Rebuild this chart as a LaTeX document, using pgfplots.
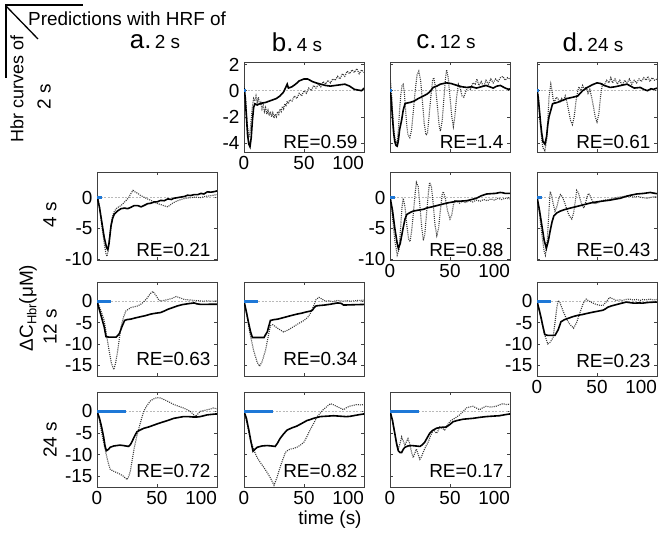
\documentclass[border=0pt]{standalone}
\usepackage{pgfplots}
\pgfplotsset{compat=1.18}
\usepackage{fontspec}
\setmainfont{Liberation Sans}
\definecolor{barblue}{RGB}{30,120,215}
\definecolor{dotgray}{RGB}{55,55,55}
\newcommand{\fs}{\fontsize{19}{21}\selectfont}
\pgfplotsset{
  panel/.style={scale only axis, width=120bp, xmin=0, xmax=100,
    xtick={0,50,100}, xticklabels={}, yticklabels={},
    axis line style={black!75, line width=0.6bp},
    tick style={black!75, line width=0.5bp}, major tick length=3bp,
    tick align=inside, clip=true,
    ticklabel style={font=\fs},
    xticklabel style={yshift=-1bp},
    yticklabel style={xshift=-1bp},
    /pgf/number format/assume math mode=true},
  xlab/.style={xticklabels={0,50,\makebox[0pt][r]{100}}},
  r1/.style={height=90bp, ymin=-4.7, ymax=2.2, ytick={-4,-2,0,2}},
  r1lab/.style={yticklabels={-4,-2,0,2}},
  r2/.style={height=88bp, ymin=-10.2, ymax=4.2, ytick={-10,-5,0}},
  r2lab/.style={yticklabels={-10,-5,0}},
  r3/.style={height=94bp, ymin=-17.5, ymax=4.5, ytick={-15,-10,-5,0}},
  r3lab/.style={yticklabels={-15,-10,-5,0}},
  zero/.style={gray!55, line width=0.5bp, dash pattern=on 2bp off 1.5bp},
  pred/.style={dotgray, line width=1.1bp, dash pattern=on 1bp off 1.1bp},
  meas/.style={black, line width=1.6bp},
  stim/.style={barblue, line width=3bp},
}
\newcommand{\RE}[2]{\node[anchor=base east, font=\fs] at (rel axis cs:1,0) [xshift=-3bp, yshift=#2] {RE=#1};}
\begin{document}
\begin{tikzpicture}
\useasboundingbox (0,0) rectangle (664bp,540bp);
% header
\draw[line width=1.3bp] (5bp,535bp) -- (83bp,535bp);
\draw[line width=1.3bp] (6bp,535bp) -- (6bp,462bp);
\draw[line width=1.3bp] (6bp,534bp) -- (38bp,501bp);
\node[anchor=west, font=\fs, inner sep=0pt] at (28bp,521bp) {Predictions with HRF of};
\node[rotate=90, font=\fontsize{18}{20}\selectfont] at (17bp,451bp) {Hbr curves of};
\node[font=\fs] at (155bp,498bp) {{\fontsize{26}{28}\selectfont a.}\,2 s};
\node[font=\fs] at (297bp,498bp) {{\fontsize{26}{28}\selectfont b.}\,4 s};
\node[font=\fs] at (446bp,498bp) {{\fontsize{26}{28}\selectfont c.}\,12 s};
\node[font=\fs] at (593bp,498bp) {{\fontsize{26}{28}\selectfont d.}\,24 s};
\node[rotate=90, font=\fs] at (44bp,443bp) {2 s};
\node[rotate=90, font=\fs] at (50bp,325bp) {4 s};
\node[rotate=90, font=\fs] at (50bp,213bp) {12 s};
\node[rotate=90, font=\fs] at (50bp,100bp) {24 s};
\node[rotate=90, font=\fs] at (28bp,232bp) {ΔC\raisebox{-0.35ex}{\fontsize{13}{13}\selectfont Hbr}(μM)};
\node[font=\fs] at (330bp,20bp) {time (s)};

% ===== Row 1 (2 s) =====
\begin{axis}[panel, r1, r1lab, xlab, at={(244bp,478bp)}, anchor=north west]
\addplot[zero] coordinates {(0,0) (100,0)};
\addplot[pred] coordinates {(0,0.5) (1,-0.3) (2,-1.5) (3,-2.8) (4,-3.6) (5,-3.2) (6,-2.2) (7,-1.2) (8,-0.6) (9,-0.8) (10,-0.4) (11,-0.9) (12,-0.5) (13,-1.1) (14,-0.9) (15,-1.4) (16,-1.1) (17,-1.6) (18,-1.3) (19,-1.8) (20,-1.5) (21,-1.9) (22,-1.6) (23,-2.0) (24,-1.7) (25,-2.1) (26,-1.8) (27,-2.0) (28,-1.6) (29,-1.8) (30,-1.4) (31,-1.6) (32,-1.2) (33,-1.4) (34,-1.0) (35,-1.2) (36,-0.8) (37,-1.0) (38,-0.7) (40,-0.8) (42,-0.4) (44,-0.6) (46,-0.2) (48,-0.4) (50,0.0) (52,-0.2) (54,0.2) (56,0.0) (58,0.4) (60,0.2) (62,0.5) (64,0.3) (66,0.7) (68,0.5) (70,0.8) (72,0.6) (74,0.9) (76,0.8) (78,1.1) (80,0.9) (82,1.3) (84,1.1) (86,1.5) (88,1.3) (90,1.6) (92,1.4) (94,1.7) (96,1.3) (98,1.6) (100,1.4)};
\addplot[meas] coordinates {(0,0.2) (1,-0.5) (2,-2) (3,-3.4) (4,-4.1) (5,-4.3) (6,-3.6) (7,-2.3) (8,-1.3) (9,-1.0) (11,-1.1) (13,-1.0) (15,-0.95) (18,-0.9) (21,-0.8) (24,-0.7) (27,-0.6) (30,-0.4) (33,-0.1) (35,0.3) (36,0.5) (37,0.2) (40,0.3) (43,0.5) (46,0.75) (50,0.9) (53,0.9) (57,0.7) (60,0.6) (64,0.5) (68,0.4) (72,0.35) (76,0.4) (80,0.45) (84,0.5) (88,0.35) (92,0.1) (95,0.05) (98,0.0) (100,0.2)};
\addplot[stim] coordinates {(0,0) (2,0)};
\RE{0.59}{3bp}
\end{axis}

\begin{axis}[panel, r1, at={(390bp,478bp)}, anchor=north west]
\addplot[zero] coordinates {(0,0) (100,0)};
\addplot[pred] coordinates {(0,1.1) (1,0.2) (2,-1.5) (3,-2.8) (4,-3.6) (5,-4.0) (6,-3.9) (7,-3.0) (8,-1.5) (9,-0.3) (10,0.4) (11,0.5) (12,-0.2) (13,-1.5) (14,-2.7) (15,-3.4) (16.5,-3.6) (18,-3.0) (19.5,-1.5) (21,0.0) (22.5,1.2) (24,1.5) (25.5,0.8) (27,-0.8) (28.5,-2.5) (30,-3.4) (31.2,-3.3) (32.5,-2.0) (34,-0.5) (35.5,0.8) (36.5,1.0) (38,0.2) (39.5,-1.2) (41,-2.7) (42,-3.1) (43.5,-2.3) (45,-0.5) (46.3,1.0) (47.2,1.6) (48.5,1.0) (50,-0.5) (51.5,-2.0) (52.8,-2.75) (54,-2.0) (55.5,-0.5) (57,0.5) (58.5,0.2) (60,-0.4) (61.5,-0.5) (63,-0.1) (65,0.3) (67,0.1) (69,0.6) (71,0.5) (72.5,0.9) (74,0.4) (76,0.7) (78,0.3) (80,0.8) (82,0.5) (84,0.9) (86,0.6) (88,0.9) (90,0.7) (92,1.0) (94,1.1) (96,0.8) (98,1.0) (100,0.9)};
\addplot[meas] coordinates {(0,0.1) (1,-0.6) (2,-2) (3,-3.2) (4,-3.9) (5,-4.2) (6,-4.25) (7,-3.8) (8,-3.0) (9.7,-2.25) (11,-1.5) (12.5,-1.0) (14,-0.95) (16.7,-0.9) (20,-0.8) (23.6,-0.6) (28,-0.4) (31,-0.25) (33,-0.1) (36,0.25) (39,0.35) (42,0.5) (47,0.6) (51,0.55) (56,0.4) (60,0.3) (64,0.25) (68,0.3) (72,0.2) (76,0.3) (80,0.4) (83,0.3) (86,0.2) (89,0.35) (92,0.4) (96,0.2) (99,0.1) (100,0.15)};
\addplot[stim] coordinates {(0,0) (2,0)};
\RE{1.4}{3bp}
\end{axis}

\begin{axis}[panel, r1, at={(537bp,478bp)}, anchor=north west]
\addplot[zero] coordinates {(0,0) (100,0)};
\addplot[pred] coordinates {(0,0.4) (1,-0.4) (2,-1.6) (3,-2.8) (4,-3.8) (5,-4.4) (6.5,-4.6) (8,-3.8) (9,-2.3) (10,-0.5) (11.5,0.5) (12.5,0.0) (13.5,-0.7) (14.5,-0.9) (16,-0.5) (17.5,-0.6) (19,-0.9) (20.5,-0.6) (22,-0.8) (23.5,-0.4) (25,-0.9) (26.5,-1.6) (28,-2.3) (29.5,-2.6) (31,-2.0) (32.5,-0.8) (34,0.0) (35,0.3) (36.5,0.0) (38,0.4) (39.5,0.1) (41,0.3) (42.5,-0.2) (44,0.1) (45.5,-0.5) (47,-1.2) (48.5,-2.0) (50,-2.4) (51.5,-1.8) (53,-0.4) (54.5,0.5) (56,0.4) (58,0.8) (60,0.6) (61.5,1.0) (63,0.6) (65,0.9) (67,0.5) (69,0.8) (71,0.4) (73,0.8) (75,0.6) (77,0.9) (79,0.5) (81,0.8) (83,0.6) (85,0.9) (87,0.7) (89,1.0) (91,0.8) (92.5,1.1) (94,0.7) (96,1.0) (98,0.8) (100,0.9)};
\addplot[meas] coordinates {(0,0) (1,-0.5) (2,-1.5) (3,-2.5) (4,-3.3) (5,-3.9) (6.6,-4.1) (8,-3.5) (9,-2.6) (10,-2.0) (11.5,-1.5) (13,-1.0) (15,-0.95) (17,-0.9) (21,-0.75) (25,-0.6) (30,-0.5) (34,-0.4) (36,-0.2) (38,0.0) (42,0.25) (46,0.45) (50,0.6) (53,0.55) (56,0.4) (61,0.25) (65,0.3) (70,0.4) (75,0.5) (78,0.35) (81,0.2) (86,0.25) (89,0.1) (92,0.0) (95,0.15) (97,0.1) (100,0.2)};
\addplot[stim] coordinates {(0,0) (2,0)};
\RE{0.61}{3bp}
\end{axis}

% ===== Row 2 (4 s) =====
\begin{axis}[panel, r2, r2lab, at={(97bp,368bp)}, anchor=north west]
\addplot[zero] coordinates {(0,0) (100,0)};
\addplot[pred] coordinates {(0,0.8) (2,-1.5) (4,-4.5) (6,-7.5) (7.5,-9.2) (8.3,-9.6) (9.5,-8.5) (11,-5.5) (12.5,-3.4) (14,-2.4) (16,-1.8) (18,-1.5) (20,-1.3) (22,-0.9) (24,-0.5) (26,-0.1) (28,0.6) (30,1.2) (32,0.9) (34,0.7) (36,0.4) (39,0.1) (42,-0.2) (45,-0.45) (48,-0.8) (51,-1.0) (54,-1.2) (57,-1.4) (59,-1.5) (61,-1.2) (63,-0.9) (66,-0.6) (70,-0.3) (74,-0.1) (78,0.0) (82,0.1) (86,0.0) (90,0.2) (94,0.3) (97,0.4) (100,0.5)};
\addplot[meas] coordinates {(0,0.2) (2,-1.5) (4,-4) (6,-6.5) (8,-8.2) (9,-8.5) (10,-7.5) (11.7,-4.6) (13,-3.4) (14.4,-2.7) (17,-2.2) (20,-1.8) (23,-1.7) (25.5,-1.8) (28,-1.6) (31,-1.3) (34,-1.3) (36.7,-1.5) (39,-1.3) (42,-1.0) (45,-0.9) (47.8,-0.7) (50,-0.7) (53,-0.45) (56,-0.5) (59,-0.2) (62,-0.3) (64,-0.1) (67,0.0) (70,0.1) (73,0.2) (75.5,0.4) (78,0.35) (81,0.5) (84,0.5) (86.7,0.7) (89,0.6) (92,0.95) (95,0.9) (98,1.0) (100,1.1)};
\addplot[stim] coordinates {(0,0) (4,0)};
\RE{0.21}{3bp}
\end{axis}

\begin{axis}[panel, r2, r2lab, xlab, at={(390bp,368bp)}, anchor=north west]
\addplot[zero] coordinates {(0,0) (100,0)};
\addplot[pred] coordinates {(0,0.6) (2,-3) (4,-7) (6,-9.4) (7.5,-8.5) (9,-4.5) (10,-1.5) (11,-0.1) (12.5,-1.5) (14,-4.5) (15.5,-6.8) (16.7,-7.2) (18,-5.5) (19.5,-2.5) (21,0.8) (22,2.5) (23.5,1.8) (25,-1.5) (26.5,-5.0) (27.8,-7.0) (29,-6.0) (30.5,-2.5) (32,0.8) (33,2.5) (34.5,1.8) (36,-1.0) (37.5,-4.5) (39,-6.2) (40.5,-5.0) (42,-2.0) (43.5,0.5) (44.4,1.0) (46,0.0) (48,-2.2) (50,-3.5) (51.5,-2.8) (53,-1.0) (54,-0.4) (56,-0.6) (58,-0.9) (60,-0.6) (63,-0.8) (66,-0.5) (69,-0.7) (72,-0.4) (75,-0.6) (78,-0.3) (81,-0.5) (84,-0.2) (87,-0.4) (90,-0.1) (93,-0.3) (96,-0.1) (100,-0.2)};
\addplot[meas] coordinates {(0,0.1) (2,-2.0) (4,-5) (6,-7.5) (7,-8.3) (8.5,-7.5) (11,-4.9) (12.5,-3.5) (14,-2.75) (17,-2.4) (19.4,-2.2) (22,-2.1) (25,-2.0) (28,-1.9) (30.5,-1.7) (35,-1.5) (39,-1.3) (43,-1.1) (47,-0.9) (51,-0.75) (55.5,-0.6) (60,-0.55) (64,-0.5) (68,-0.3) (72,-0.1) (76,0.3) (80.5,0.6) (84,0.65) (88,0.7) (91.7,0.85) (94,0.8) (96,0.7) (100,0.7)};
\addplot[stim] coordinates {(0,0) (4,0)};
\RE{0.88}{3bp}
\end{axis}

\begin{axis}[panel, r2, at={(537bp,368bp)}, anchor=north west]
\addplot[zero] coordinates {(0,0) (100,0)};
\addplot[pred] coordinates {(0,0.5) (2,-2.5) (4,-6) (6,-8.8) (7,-9.4) (8.5,-7) (10,-2) (11,1.0) (12,0.5) (13.5,-1.0) (15,-2.2) (16.5,-1.5) (18,-0.3) (19.5,0.5) (21,0.2) (23,-0.8) (25,-2.0) (27,-3.0) (29,-3.5) (30.5,-2.5) (32,-0.5) (33,1.2) (34.5,0.8) (36,-0.3) (37.5,-1.2) (39,-1.7) (40.5,-0.8) (42,0.3) (43,0.7) (44.5,0.2) (46,-0.5) (48,-1.0) (50,-0.9) (53,-0.6) (56,-0.4) (60,-0.3) (64,-0.1) (68,0.1) (72,0.2) (76,0.3) (80,0.1) (84,0.2) (88,0.0) (92,-0.1) (96,0.1) (100,0.2)};
\addplot[meas] coordinates {(0,0.1) (2,-2) (4,-4.5) (6,-7) (7.8,-8.3) (9.5,-7) (11,-5.4) (12.5,-4) (14,-3) (16.5,-2.5) (19.4,-2.2) (23,-1.95) (27.8,-1.7) (32,-1.5) (36,-1.3) (40,-1.1) (44,-0.9) (48,-0.75) (53,-0.6) (57,-0.5) (61,-0.4) (65,-0.25) (69.4,-0.1) (74,0.2) (78,0.4) (83,0.6) (89,0.7) (94.4,0.85) (97,0.75) (100,0.65)};
\addplot[stim] coordinates {(0,0) (4,0)};
\RE{0.43}{3bp}
\end{axis}

% ===== Row 3 (12 s) =====
\begin{axis}[panel, r3, r3lab, at={(97bp,258bp)}, anchor=north west]
\addplot[zero] coordinates {(0,0) (100,0)};
\addplot[pred] coordinates {(0,0) (3,-2) (6,-4.5) (8,-8) (10,-11.4) (12,-14.5) (14,-16) (15.5,-14.5) (17,-12) (18.5,-9) (20,-6) (22,-3.8) (24,-2.3) (26,-1.9) (28,-1.5) (31,-1.3) (34,-1.1) (37,-0.6) (39.4,0) (42,0.8) (44.5,1.8) (46.7,2.3) (49,1.4) (51,0.5) (53,0) (56,0.2) (59,0.4) (62,0.6) (66,1.1) (69,0.8) (73,0.4) (77,0.3) (81,0.2) (85,0.1) (89,0.0) (92,0.1) (96,0.0) (100,0.1)};
\addplot[meas] coordinates {(0,0) (2,-2) (4,-4) (6,-6) (7.5,-8.3) (10,-8.4) (13,-8.4) (16,-8.4) (18.6,-7.6) (21,-5.8) (23,-4.5) (25,-4.3) (28,-4.2) (32,-3.9) (36.7,-3.6) (40,-3.4) (45,-3.0) (49,-2.8) (53,-2.65) (56,-2.3) (59,-1.9) (63,-1.5) (67,-1.1) (71,-0.8) (75.5,-0.6) (78,-0.5) (81,-0.4) (83,-0.6) (86.7,-0.75) (90,-0.75) (95,-0.7) (100,-0.7)};
\addplot[stim] coordinates {(0,0) (12,0)};
\RE{0.63}{10bp}
\end{axis}

\begin{axis}[panel, r3, at={(244bp,258bp)}, anchor=north west]
\addplot[zero] coordinates {(0,0) (100,0)};
\addplot[pred] coordinates {(0,0) (2.5,-3.5) (5,-7.6) (8,-11.5) (11,-14.3) (13,-15.2) (15,-14.2) (18,-11.4) (20,-8.5) (22,-5.7) (24,-5.5) (26.4,-6) (29,-6.5) (33,-7.2) (37,-6.7) (41,-6) (45,-5.3) (50,-4.5) (53,-3.8) (55,-3.0) (57,-1.8) (59,-0.4) (60,0.4) (62.5,0.9) (65,0.5) (68,0.0) (71,0.1) (74,-0.1) (78,0.2) (82,0.0) (86,0.1) (89,0.0) (93,0.15) (97,0.2) (100,0.25)};
\addplot[meas] coordinates {(0,0) (2,-2.5) (4,-5.3) (5.5,-7.2) (7,-8.5) (10,-8.5) (13,-8.5) (16.7,-8.5) (18,-7.8) (19.4,-7.2) (20.5,-6) (22,-4.5) (25,-4.3) (28,-4.2) (32,-3.9) (36,-3.6) (40,-3.3) (44.4,-3.0) (48,-2.8) (52,-2.5) (55.5,-2.3) (57,-2.1) (58.5,-1.5) (60,-1.1) (63,-1.0) (67,-0.9) (72,-0.7) (78,-0.4) (81,-0.5) (83,-0.9) (88,-0.85) (94,-0.8) (100,-0.75)};
\addplot[stim] coordinates {(0,0) (12,0)};
\RE{0.34}{10bp}
\end{axis}

\begin{axis}[panel, r3, r3lab, xlab, at={(537bp,258bp)}, anchor=north west]
\addplot[zero] coordinates {(0,0) (100,0)};
\addplot[pred] coordinates {(0,0) (3,-3.5) (6,-7.5) (9,-10) (11,-9.6) (13.4,-8.5) (15,-5) (16.5,-1.5) (17.6,0.15) (19,-0.2) (20,-1) (22,-2.5) (24.4,-4) (27,-5.3) (30.5,-6.3) (33,-5.0) (36,-2.5) (38.5,-0.5) (41,0.5) (43,0.1) (45,-0.2) (48,-0.6) (51,-0.9) (55,-1.0) (57.5,-0.2) (60.5,0.9) (63,0.6) (66,0.2) (69,0.3) (71,0.2) (74,0.4) (77,0.5) (80,0.3) (83,0.4) (86,0.2) (88,0.4) (91,0.3) (94,0.5) (97,0.3) (100,0.4)};
\addplot[meas] coordinates {(0,0) (2,-2.2) (3.5,-4) (5,-6) (6.5,-7.8) (9,-8) (12,-8) (15,-8) (17.6,-6.7) (20,-4.8) (23,-4.3) (27,-3.9) (30,-3.6) (34,-3.3) (38,-3.1) (41,-2.9) (45,-2.65) (49.5,-2.4) (55,-2.1) (57,-1.8) (59,-1.4) (62,-1.1) (66,-0.8) (70,-0.5) (74.4,-0.2) (78,-0.35) (81,-0.45) (85,-0.4) (88,-0.45) (92,-0.3) (95,-0.25) (98,-0.2) (100,-0.2)};
\addplot[stim] coordinates {(0,0) (12,0)};
\RE{0.23}{8bp}
\end{axis}

% ===== Row 4 (24 s) =====
\begin{axis}[panel, r3, r3lab, xlab, height=95bp, at={(97bp,148bp)}, anchor=north west]
\addplot[zero] coordinates {(0,0) (100,0)};
\addplot[pred] coordinates {(0,0) (2,-2) (4,-5.1) (6,-7.8) (8.3,-10.7) (9.5,-12) (11,-13.4) (13.5,-13.8) (16.7,-14.2) (19,-14.5) (22,-15) (25,-15.8) (26.5,-15) (27.8,-13.8) (29.5,-11) (31,-8.5) (33,-5.9) (35,-3.8) (37,-1.8) (38.9,0) (41.5,1.3) (44.4,2.4) (47,2.9) (50,3.2) (53,3.1) (55.5,2.8) (60,2.2) (64,1.6) (68,1.2) (72,0.8) (75,0.4) (77.8,0) (80,-0.6) (82,-1.2) (84,-0.6) (86,0) (89,0.2) (92,0.4) (95,0.6) (97,0.8) (100,0.6)};
\addplot[meas] coordinates {(0,0) (2,-1.5) (4,-3.8) (5.5,-5.9) (6.7,-8) (7.8,-9.1) (9.5,-8.8) (11,-8.3) (14,-8.0) (16.7,-7.9) (19,-7.8) (22,-7.9) (24,-8.0) (26.4,-8.1) (28,-7.6) (29,-7.1) (31,-5.9) (33.3,-4.7) (36,-4.3) (39,-3.9) (43,-3.6) (47,-3.2) (51,-2.8) (55.5,-2.4) (60,-2.0) (64,-1.6) (68,-1.4) (72,-1.2) (76,-1.2) (80.5,-1.3) (83,-1.3) (86,-1.2) (89,-1.0) (91.7,-0.8) (95,-0.7) (98.6,-0.6) (100,-0.6)};
\addplot[stim] coordinates {(0,0) (24,0)};
\RE{0.72}{10bp}
\end{axis}

\begin{axis}[panel, r3, xlab, height=95bp, at={(244bp,148bp)}, anchor=north west]
\addplot[zero] coordinates {(0,0) (100,0)};
\addplot[pred] coordinates {(0,0) (2.5,-2.8) (5.5,-6.7) (8,-8.8) (11,-10.7) (13.5,-11.8) (16.6,-13) (19,-14) (22,-15.4) (25,-17.1) (27.5,-15.3) (30,-13) (32.5,-11) (34.5,-9.5) (36.5,-9.0) (38.7,-8.7) (41,-8.6) (44,-8.3) (47,-7.8) (50,-7.1) (52.5,-5.8) (55,-4.3) (58,-2.8) (61,-1.2) (63.5,-0.4) (66,0.4) (69,1.1) (72,1.8) (74,1.6) (77,1.2) (80,0.8) (83,0.4) (85.5,0.9) (88,1.2) (91,1.4) (94,1.6) (97,1.5) (100,1.6)};
\addplot[meas] coordinates {(0,0) (2,-1.6) (4,-4.3) (5.8,-7) (7.5,-9.2) (9,-8.8) (11,-8.3) (15,-8.0) (19.3,-7.9) (23,-8.0) (26,-8.1) (28,-7.3) (30,-6.3) (33,-5.2) (36,-4.3) (40,-3.8) (44,-3.4) (48,-2.8) (52.5,-2.1) (55,-1.9) (58,-1.6) (63.5,-1.2) (69,-1.1) (74.6,-1.0) (80,-1.1) (85,-1.2) (88,-1.15) (91,-1.0) (95,-0.8) (99.4,-0.6) (100,-0.6)};
\addplot[stim] coordinates {(0,0) (24,0)};
\RE{0.82}{10bp}
\end{axis}

\begin{axis}[panel, r3, xlab, height=95bp, at={(390bp,148bp)}, anchor=north west]
\addplot[zero] coordinates {(0,0) (100,0)};
\addplot[pred] coordinates {(0,0.4) (2,-2.0) (4,-5.1) (5.5,-7.2) (6.9,-8.7) (8.3,-7.5) (9.7,-5.9) (11,-6.8) (12.4,-7.9) (13.7,-7.0) (15,-6.3) (16.5,-7.5) (18,-9.5) (19.3,-10.7) (20.5,-9.8) (22,-8.7) (23.5,-10) (24.9,-11.1) (26.2,-10.5) (27.6,-9.5) (29.5,-8.3) (31.8,-7.1) (34,-5.5) (36,-4.3) (37.5,-4.6) (38.7,-5.1) (40,-4.5) (41.4,-3.6) (43.5,-3.9) (45.6,-4.3) (47.5,-3.3) (49.7,-2.4) (52,-1.9) (55,-1.4) (58,-0.8) (61,0.0) (63.5,0.8) (66,1.0) (69,1.2) (72,0.8) (74.6,0.4) (77,0.8) (80,1.2) (84,1.0) (88.4,1.2) (91,1.5) (94,1.8) (97,1.6) (100,1.7)};
\addplot[meas] coordinates {(0,0) (2,-2) (4,-5.1) (5.5,-7.5) (6.9,-9.1) (8.3,-9.5) (9.7,-9.5) (11,-8.8) (12.4,-8.3) (15,-8.0) (18,-7.9) (21.5,-8.0) (25,-8.1) (27,-7.7) (29,-7.1) (31,-6.1) (33,-5.1) (35.5,-4.4) (38.7,-3.9) (42,-3.7) (47,-3.6) (50,-3.0) (52.5,-2.4) (56,-2.1) (61,-1.8) (65,-1.7) (69,-1.6) (74,-1.4) (80,-1.2) (85,-1.1) (91,-1.0) (95,-0.8) (99.4,-0.6) (100,-0.6)};
\addplot[stim] coordinates {(0,0) (24,0)};
\RE{0.17}{10bp}
\end{axis}
\end{tikzpicture}
\end{document}
